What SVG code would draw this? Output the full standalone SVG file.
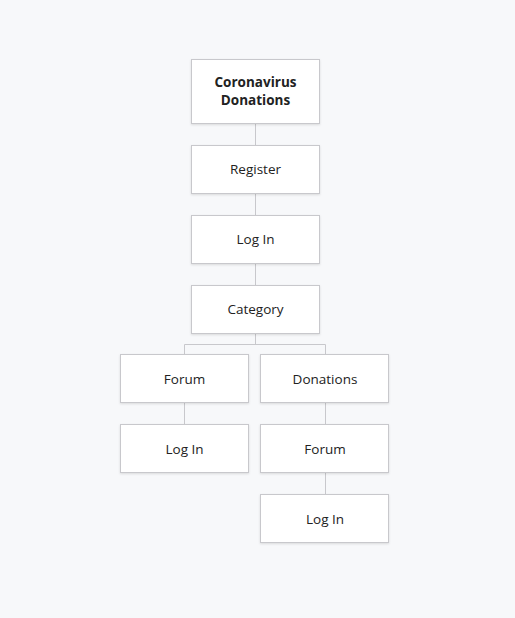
<svg xmlns="http://www.w3.org/2000/svg" width="515" height="618" viewBox="0 0 515 618">
<defs>
<filter id="sh" x="-10%" y="-10%" width="120%" height="130%">
<feDropShadow dx="0" dy="1" stdDeviation="1" flood-color="#000" flood-opacity="0.12"/>
</filter>
</defs>
<style>
.box{fill:#ffffff;stroke:#c8c8cc;stroke-width:1;filter:url(#sh)}
.lbl{font-family:"Open Sans","Noto Sans",sans-serif;font-size:13.5px;fill:#222;text-anchor:middle}
.b{font-weight:bold}
.con{stroke:#c8c8cc;stroke-width:1;fill:none}
</style>
<rect width="515" height="618" fill="#f7f8fa"/>
<g id="connectors">
<path class="con" d="M255.5 123V145M255.5 193V215M255.5 263V285M255.5 333V344.5M184.5 344.5H325.5M184.5 344.5V354M325.5 344.5V354M184.5 403V424M325.5 403V424M325.5 473V494"/>
</g>
<g id="n1"><rect class="box" x="191.5" y="59.5" width="128" height="64"/><text class="lbl b" x="255.5" y="87">Coronavirus</text><text class="lbl b" x="255.5" y="105">Donations</text></g>
<g id="n2"><rect class="box" x="191.5" y="145.5" width="128" height="48"/><text class="lbl" x="255.5" y="174">Register</text></g>
<g id="n3"><rect class="box" x="191.5" y="215.5" width="128" height="48"/><text class="lbl" x="255.5" y="244">Log In</text></g>
<g id="n4"><rect class="box" x="191.5" y="285.5" width="128" height="48"/><text class="lbl" x="255.5" y="314">Category</text></g>
<g id="n5"><rect class="box" x="120.5" y="354.5" width="128" height="48"/><text class="lbl" x="184.5" y="384">Forum</text></g>
<g id="n6"><rect class="box" x="260.5" y="354.5" width="128" height="48"/><text class="lbl" x="325" y="384">Donations</text></g>
<g id="n7"><rect class="box" x="120.5" y="424.5" width="128" height="48"/><text class="lbl" x="184.5" y="454">Log In</text></g>
<g id="n8"><rect class="box" x="260.5" y="424.5" width="128" height="48"/><text class="lbl" x="325" y="454">Forum</text></g>
<g id="n9"><rect class="box" x="260.5" y="494.5" width="128" height="48"/><text class="lbl" x="325" y="524">Log In</text></g>
</svg>
